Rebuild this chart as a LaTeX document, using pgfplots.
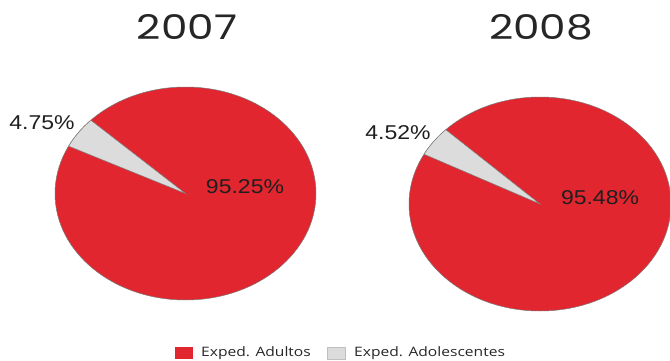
\documentclass[border=0pt]{standalone}
\usepackage{pgfplots}
\pgfplotsset{compat=1.18}
\usepackage{pgfplotstable}
\usepackage{fontspec}
\setmainfont{Liberation Sans}
\newfontfamily\titlefont{Poppins}
\newfontfamily\legfont{Open Sans}
\definecolor{pieRed}{HTML}{E2262F}
\definecolor{pieGray}{HTML}{DCDCDC}
\definecolor{edgeGray}{HTML}{7A7A7A}

\pgfplotstableread{
year adultos adolescentes start rx ry cx cy
2007 95.25 4.75 136.5 130.5 106.5 185.5 166.5
2008 95.48 4.52 136.0 131.0 107.0 540.0 156.0
}\piedata

\newcommand{\drawpie}[1]{%
  \pgfplotstablegetelem{#1}{adolescentes}\of\piedata\let\adol\pgfplotsretval
  \pgfplotstablegetelem{#1}{start}\of\piedata\let\stang\pgfplotsretval
  \pgfplotstablegetelem{#1}{rx}\of\piedata\let\rx\pgfplotsretval
  \pgfplotstablegetelem{#1}{ry}\of\piedata\let\ry\pgfplotsretval
  \pgfmathsetmacro{\enang}{\stang+3.6*\adol}%
  \fill[pieRed, draw=edgeGray, line width=0.5pt] (axis cs:0,0) ellipse [x radius=1, y radius=1];
  \fill[pieGray, draw=edgeGray, line width=0.5pt] (axis cs:0,0) -- (axis cs:{cos(\stang)},{sin(\stang)})
     arc [start angle=\stang, end angle=\enang, x radius=\rx pt, y radius=\ry pt] -- cycle;
}

\begin{document}
\begin{tikzpicture}[x=1pt,y=1pt]
\path[use as bounding box] (0,0) rectangle (670,360);

\begin{axis}[hide axis, scale only axis, clip=false,
  width=261pt, height=213pt, xmin=-1, xmax=1, ymin=-1, ymax=1,
  at={(185.5pt,166.5pt)}, anchor=origin]
  \drawpie{0}
\end{axis}

\begin{axis}[hide axis, scale only axis, clip=false,
  width=262pt, height=214pt, xmin=-1, xmax=1, ymin=-1, ymax=1,
  at={(540pt,156pt)}, anchor=origin]
  \drawpie{1}
\end{axis}

% titles
\node[font=\titlefont\fontsize{34}{36}\selectfont, text=black!85, xscale=1.24] at (187,333) {2007};
\node[font=\titlefont\fontsize{34}{36}\selectfont, text=black!85, xscale=1.24] at (541,333) {2008};

% labels
\node[font=\fontsize{20}{22}\selectfont, text=black!88, xscale=1.15] at (245,173) {95.25\%};
\node[font=\fontsize{20}{22}\selectfont, text=black!88, xscale=1.15] at (42,237) {4.75\%};
\node[font=\fontsize{20}{22}\selectfont, text=black!88, xscale=1.15] at (600,162) {95.48\%};
\node[font=\fontsize{20}{22}\selectfont, text=black!88, xscale=1.15] at (398,227) {4.52\%};

% legend
\fill[pieRed] (175,1) rectangle (193,13);
\node[font=\legfont\fontsize{13}{15}\selectfont, text=black!85, anchor=west, inner sep=0pt, xscale=1.2] at (201,7) {Exped. Adultos};
\fill[pieGray, draw=black!25, line width=0.4pt] (327,1) rectangle (345,13);
\node[font=\legfont\fontsize{13}{15}\selectfont, text=black!85, anchor=west, inner sep=0pt, xscale=1.2] at (354,7) {Exped. Adolescentes};
\end{tikzpicture}
\end{document}
